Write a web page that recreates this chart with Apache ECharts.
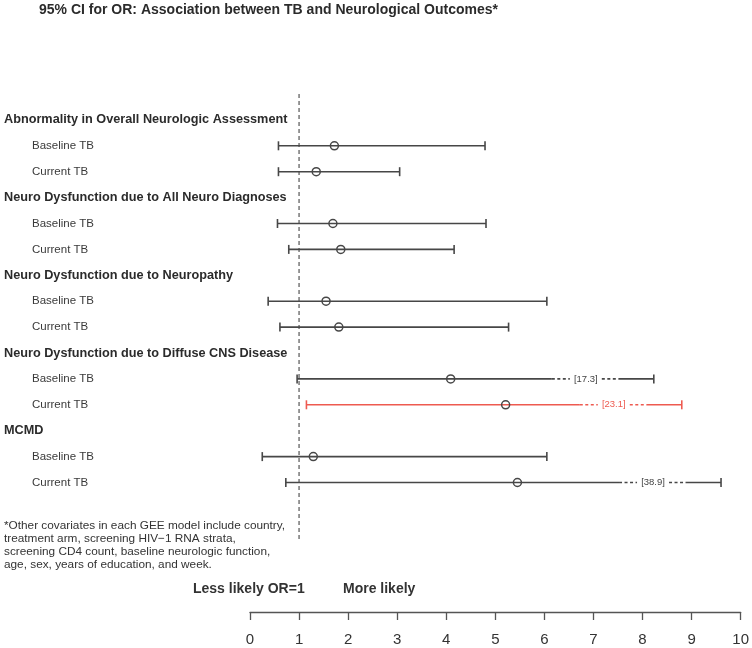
<!DOCTYPE html>
<html>
<head>
<meta charset="utf-8">
<script src="https://cdn.jsdelivr.net/npm/echarts@6/dist/echarts.min.js"></script>
<style>html,body{margin:0;padding:0;background:#fff}#main{width:752px;height:648px}</style>
</head>
<body>
<div id="main"></div>
<script>
const titleText = '95% CI for OR: Association between TB and Neurological Outcomes*';
const groups = [
  'Abnormality in Overall Neurologic Assessment',
  'Neuro Dysfunction due to All Neuro Diagnoses',
  'Neuro Dysfunction due to Neuropathy',
  'Neuro Dysfunction due to Diffuse CNS Disease',
  'MCMD'
];
const subLabels = ['Baseline TB', 'Current TB'];
// one entry per (group, sub) row, in order
const orEstimate = [1.72, 1.35, 1.69, 1.85, 1.55, 1.81, 4.09, 5.21, 1.29, 5.45];
const ciLower    = [0.58, 0.58, 0.56, 0.79, 0.37, 0.61, 0.96, 1.15, 0.25, 0.73];
const ciUpperShown = [4.79, 3.05, 4.81, 4.16, 6.05, 5.27, 8.23, 8.80, 6.05, 9.60];
const ciUpperActual = [null, null, null, null, null, null, 17.3, 23.1, null, 38.9];
const highlighted = [false, false, false, false, false, false, false, true, false, false];
const xTicks = [0, 1, 2, 3, 4, 5, 6, 7, 8, 9, 10];
const refValue = 1;
const footnote = '*Other covariates in each GEE model include country,\ntreatment arm, screening HIV\u22121 RNA strata,\nscreening CD4 count, baseline neurologic function,\nage, sex, years of education, and week.';

const FONT = '"Liberation Sans", Arial, Helvetica, sans-serif';
const DARK = '#474747';
const RED = '#ee5a50';

// build rows
const labelRows = [];
const ciRows = [];
groups.forEach((g, gi) => {
  labelRows.push([gi * 3, g, 'h']);
  subLabels.forEach((s, si) => {
    const idx = gi * 2 + si;
    const row = gi * 3 + si + 1;
    labelRows.push([row, s, 's']);
    ciRows.push([row, ciLower[idx], orEstimate[idx], ciUpperShown[idx],
      ciUpperActual[idx] == null ? -1 : ciUpperActual[idx], highlighted[idx] ? 1 : 0]);
  });
});

const chart = echarts.init(document.getElementById('main'));
chart.setOption({
  animation: false,
  backgroundColor: '#fff',
  title: {
    text: titleText, left: 39, top: 3, padding: 0,
    textStyle: { fontFamily: FONT, fontWeight: 'bold', fontSize: 14, color: '#2b2b2b' }
  },
  grid: { left: 250, right: 11, top: 94, bottom: 36 },
  xAxis: {
    type: 'value', min: 0, max: 10, interval: 1, position: 'bottom',
    axisLine: { show: true, onZero: false, lineStyle: { color: '#555', width: 1.3 } },
    axisTick: { show: true, length: 8, lineStyle: { color: '#555', width: 1.3 } },
    axisLabel: { fontSize: 15, color: '#333', margin: 20, fontFamily: FONT,
      formatter: v => xTicks.indexOf(v) >= 0 ? String(v) : '' },
    splitLine: { show: false }
  },
  yAxis: { type: 'value', min: -1, max: 19, inverse: true, show: false },
  graphic: [
    { type: 'text', left: 193, top: 582, style: { text: 'Less likely OR=1', font: 'bold 14px ' + FONT, fill: '#333' } },
    { type: 'text', left: 343, top: 582, style: { text: 'More likely', font: 'bold 14px ' + FONT, fill: '#333' } },
    { type: 'text', left: 4, top: 519, style: { text: footnote, font: '11.8px ' + FONT, fill: '#333', lineHeight: 13 } }
  ],
  series: [
    {
      type: 'custom', silent: true,
      data: [[refValue]],
      renderItem: (params, api) => {
        const p1 = api.coord([api.value(0), -1]);
        const p2 = api.coord([api.value(0), 16.2]);
        return { type: 'line', shape: { x1: p1[0], y1: p1[1], x2: p2[0], y2: p2[1] },
          style: { stroke: '#777', lineWidth: 1.5, lineDash: [4, 3] } };
      }
    },
    {
      type: 'custom', silent: true,
      data: labelRows,
      encode: { y: 0 },
      renderItem: (params, api) => {
        const d = labelRows[params.dataIndex];
        const y = api.coord([0, d[0]])[1];
        const isH = d[2] === 'h';
        return { type: 'text', x: isH ? 4 : 32, y: y,
          style: { text: d[1], font: (isH ? 'bold 12.7px ' : '11.5px ') + FONT,
            fill: isH ? '#2b2b2b' : '#3a3a3a', verticalAlign: 'middle', align: 'left' } };
      }
    },
    {
      type: 'custom', silent: true,
      data: ciRows,
      encode: { x: [1, 2, 3], y: 0 },
      renderItem: (params, api) => {
        const row = api.value(0);
        const lo = api.coord([api.value(1), row]);
        const est = api.coord([api.value(2), row]);
        const hi = api.coord([api.value(3), row]);
        const actual = api.value(4);
        const red = api.value(5) === 1;
        const col = red ? RED : DARK;
        const y = lo[1];
        const lw = 1.6;
        const ch = 4.5;
        const children = [];
        const seg = (x1, x2, dash) => children.push({ type: 'line',
          shape: { x1: x1, y1: y, x2: x2, y2: y },
          style: { stroke: col, lineWidth: lw, lineDash: dash ? [3, 2.5] : null } });
        if (actual > 0) {
          const E = hi[0];
          seg(lo[0], E - 102, false);
          seg(E - 102, E - 84, true);
          seg(E - 52, E - 35, true);
          seg(E - 35, E, false);
          children.push({ type: 'text', x: E - 68, y: y,
            style: { text: '[' + actual.toFixed(1) + ']', font: '9.5px ' + FONT, fill: red ? RED : '#444',
              align: 'center', verticalAlign: 'middle' } });
        } else {
          seg(lo[0], hi[0], false);
        }
        children.push({ type: 'line', shape: { x1: lo[0], y1: y - ch, x2: lo[0], y2: y + ch }, style: { stroke: col, lineWidth: lw } });
        children.push({ type: 'line', shape: { x1: hi[0], y1: y - ch, x2: hi[0], y2: y + ch }, style: { stroke: col, lineWidth: lw } });
        children.push({ type: 'circle', shape: { cx: est[0], cy: y, r: 4 }, style: { fill: 'none', stroke: DARK, lineWidth: 1.5 } });
        return { type: 'group', children: children };
      }
    }
  ]
});
</script>
</body>
</html>
